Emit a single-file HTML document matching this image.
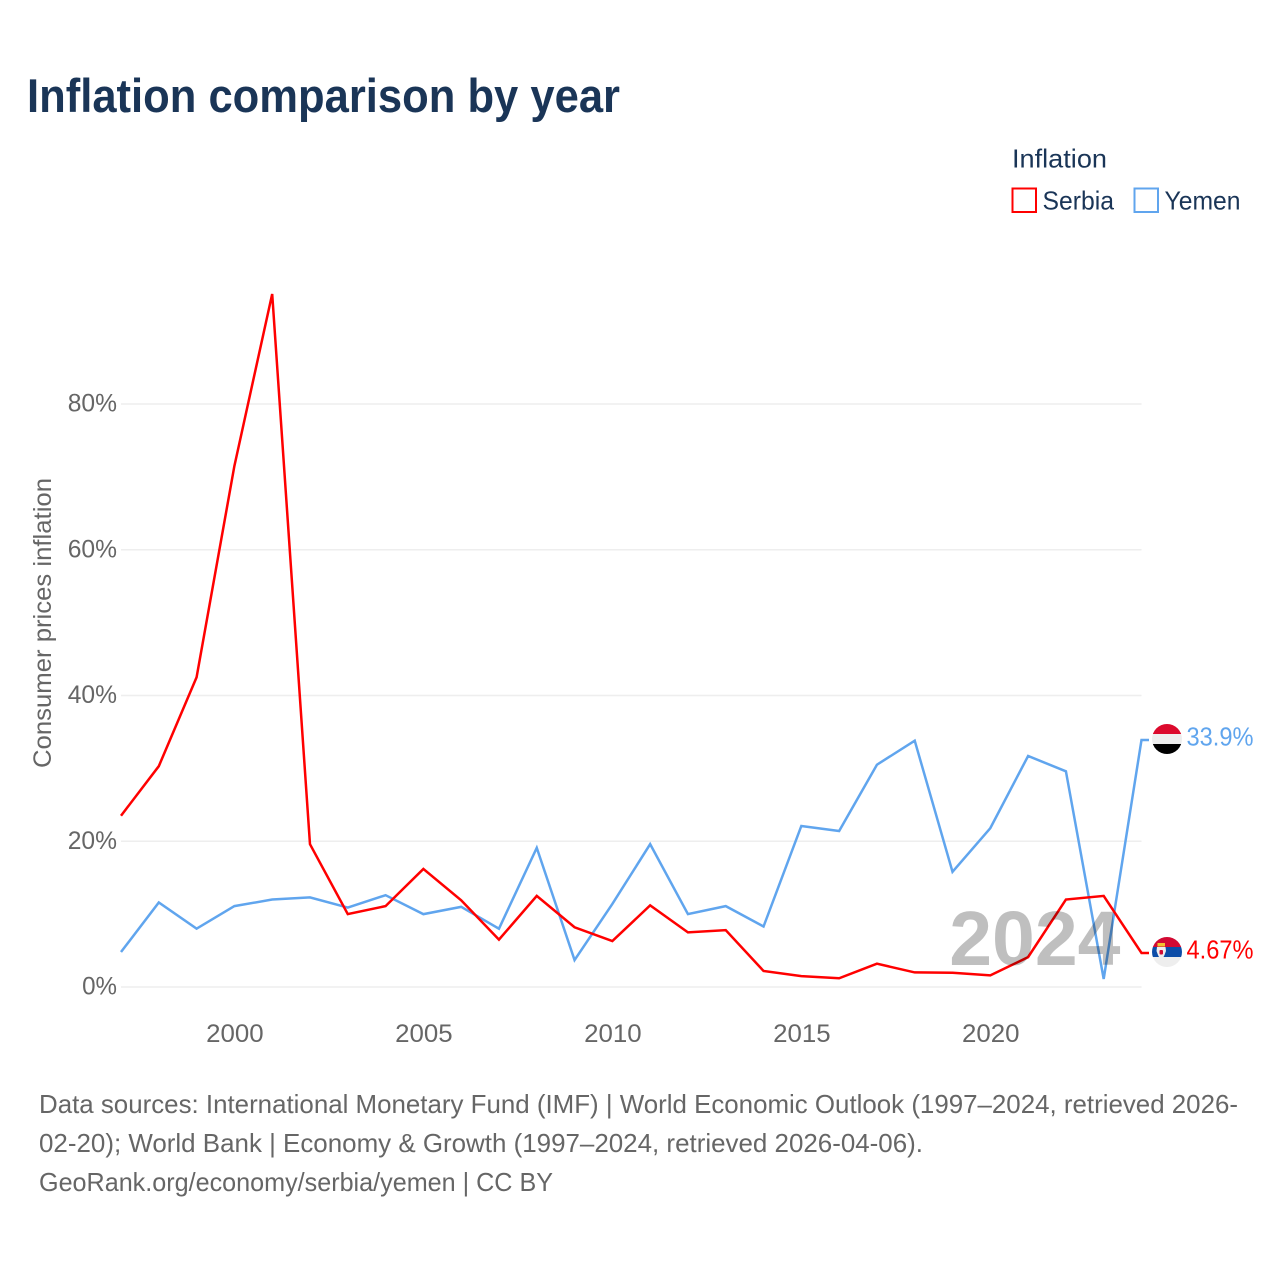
<!DOCTYPE html>
<html lang="en">
<head>
<meta charset="utf-8">
<title>Inflation comparison by year</title>
<style>
html,body{margin:0;padding:0;background:#fff;width:1280px;height:1280px;overflow:hidden}
svg{display:block;font-family:"Liberation Sans",sans-serif}
</style>
</head>
<body>
<svg id="chart" width="1280" height="1280" viewBox="0 0 1280 1280" xmlns="http://www.w3.org/2000/svg">
  <defs>
    <clipPath id="flag-clip-yemen"><circle cx="1167" cy="739" r="15"/></clipPath>
    <clipPath id="flag-clip-serbia"><circle cx="1167" cy="952" r="15"/></clipPath>
  </defs>
  <text x="27" y="112" font-size="47" font-weight="700" fill="#1a3557" textLength="593" lengthAdjust="spacingAndGlyphs">Inflation comparison by year</text>

  <g>
    <text x="1012" y="167.5" font-size="26" fill="#1a3557" textLength="95" lengthAdjust="spacingAndGlyphs">Inflation</text>
    <g>
      <rect x="1012.5" y="188.5" width="23.5" height="23.5" fill="#fff" stroke="#ff0000" stroke-width="2"/>
      <text x="1042.5" y="209.5" font-size="26" fill="#1a3557" textLength="71.5" lengthAdjust="spacingAndGlyphs">Serbia</text>
    </g>
    <g>
      <rect x="1134.5" y="188.5" width="23.5" height="23.5" fill="#fff" stroke="#60a5ee" stroke-width="2"/>
      <text x="1164.5" y="209.5" font-size="26" fill="#1a3557" textLength="76" lengthAdjust="spacingAndGlyphs">Yemen</text>
    </g>
  </g>

  <text transform="translate(51,768) rotate(-90)" font-size="25" fill="#666666" textLength="290" lengthAdjust="spacingAndGlyphs">Consumer prices inflation</text>

  <g id="grid"></g>
  <g id="y-ticks"></g>
  <g id="x-ticks"></g>
  <g id="series"></g>

  <text x="1120.5" y="965" font-size="77" font-weight="700" fill="#000000" fill-opacity="0.25" text-anchor="end">2024</text>

  <g clip-path="url(#flag-clip-yemen)">
    <rect x="1152" y="724" width="30" height="10" fill="#dc0a2d"/>
    <rect x="1152" y="734" width="30" height="10" fill="#eeeeee"/>
    <rect x="1152" y="744" width="30" height="10" fill="#000000"/>
  </g>
  <g clip-path="url(#flag-clip-serbia)">
    <rect x="1152" y="937" width="30" height="10" fill="#d20a33"/>
    <rect x="1152" y="947" width="30" height="10" fill="#0c4da8"/>
    <rect x="1152" y="957" width="30" height="10" fill="#eeeeee"/>
    <rect x="1157.5" y="943" width="7.5" height="3.5" fill="#f2c230"/>
    <polygon points="1157,947 1165.5,947 1166,951 1164.5,955 1163,958 1159.5,958 1158,955 1156.5,951" fill="#eeeeee"/>
    <rect x="1159.5" y="950" width="3.5" height="4.5" rx="1" fill="#d20a33"/>
  </g>

  <g id="end-labels"></g>

  <g font-size="26" fill="#666666">
    <text x="39" y="1113" textLength="1199" lengthAdjust="spacingAndGlyphs">Data sources: International Monetary Fund (IMF) | World Economic Outlook (1997–2024, retrieved 2026-</text>
    <text x="39" y="1152" textLength="884" lengthAdjust="spacingAndGlyphs">02-20); World Bank | Economy &amp; Growth (1997–2024, retrieved 2026-04-06).</text>
    <text x="39" y="1191" textLength="514" lengthAdjust="spacingAndGlyphs">GeoRank.org/economy/serbia/yemen | CC BY</text>
  </g>
</svg>
<script>
const years = [1997,1998,1999,2000,2001,2002,2003,2004,2005,2006,2007,2008,2009,2010,2011,2012,2013,2014,2015,2016,2017,2018,2019,2020,2021,2022,2023,2024];
const serbiaValues = [23.5,30.3,42.5,71.5,95.1,19.6,10.0,11.1,16.2,11.9,6.5,12.5,8.2,6.3,11.2,7.5,7.8,2.2,1.5,1.2,3.2,2.0,1.95,1.6,4.1,12.0,12.5,4.67];
const yemenValues = [4.8,11.6,8.0,11.1,12.0,12.3,10.9,12.6,10.0,11.0,8.0,19.1,3.7,11.4,19.6,10.0,11.1,8.3,22.1,21.4,30.5,33.8,15.8,21.8,31.7,29.6,1.1,33.9];
const yTickValues = [0,20,40,60,80];
const xTickValues = [2000,2005,2010,2015,2020];

const NS = 'http://www.w3.org/2000/svg';
function xScale(year){ return 121 + (year - 1997) * (1141.5 - 121) / 27; }
function yScale(value){ return 987 - value * 7.2875; }
function make(tag, parent, attrs){
  const el = document.createElementNS(NS, tag);
  for (const k in attrs) el.setAttribute(k, attrs[k]);
  parent.appendChild(el);
  return el;
}

const grid = document.getElementById('grid');
const yTicks = document.getElementById('y-ticks');
yTickValues.forEach(function(v){
  const line = make('line', grid, {x1:121, x2:1141.5, y1:yScale(v), y2:yScale(v), stroke:'#eeeeee', 'stroke-width':1.6});
  
  
  const label = make('text', yTicks, {x:117, y:yScale(v)+7.5, 'font-size':25, fill:'#666666', 'text-anchor':'end', textLength:String(v).length*14.4+20.5, lengthAdjust:'spacingAndGlyphs'});
  
  
  label.textContent = v + '%';
});

const xTicks = document.getElementById('x-ticks');
xTickValues.forEach(function(y){
  const label = make('text', xTicks, {x:xScale(y)+0.5, y:1042, 'font-size':25, fill:'#666666', 'text-anchor':'middle', textLength:57.5, lengthAdjust:'spacingAndGlyphs'});
  
  
  label.textContent = y;
});

function linePoints(values){
  const pts = values.map(function(v,i){ return xScale(years[i]).toFixed(2) + ',' + yScale(v).toFixed(2); });
  const last = values[values.length-1];
  pts.push('1149,' + yScale(last).toFixed(2));
  return pts.join(' ');
}
const seriesGroup = document.getElementById('series');
const yemenLine = make('polyline', seriesGroup, {points:linePoints(yemenValues), fill:'none', stroke:'#60a5ee', 'stroke-width':2.5, 'stroke-linejoin':'miter'});


const serbiaLine = make('polyline', seriesGroup, {points:linePoints(serbiaValues), fill:'none', stroke:'#ff0000', 'stroke-width':2.5, 'stroke-linejoin':'miter'});



const endLabels = document.getElementById('end-labels');
const yemenLast = yemenValues[yemenValues.length-1];
const yemenLabel = make('text', endLabels, {x:1186.5, y:yScale(yemenLast)+5.5, 'font-size':26, fill:'#60a5ee', textLength:67, lengthAdjust:'spacingAndGlyphs'});


yemenLabel.textContent = yemenLast + '%';
const serbiaLast = serbiaValues[serbiaValues.length-1];
const serbiaLabel = make('text', endLabels, {x:1186.5, y:yScale(serbiaLast)+5.5, 'font-size':26, fill:'#ff0000', textLength:67, lengthAdjust:'spacingAndGlyphs'});


serbiaLabel.textContent = serbiaLast + '%';
</script>
</body>
</html>
